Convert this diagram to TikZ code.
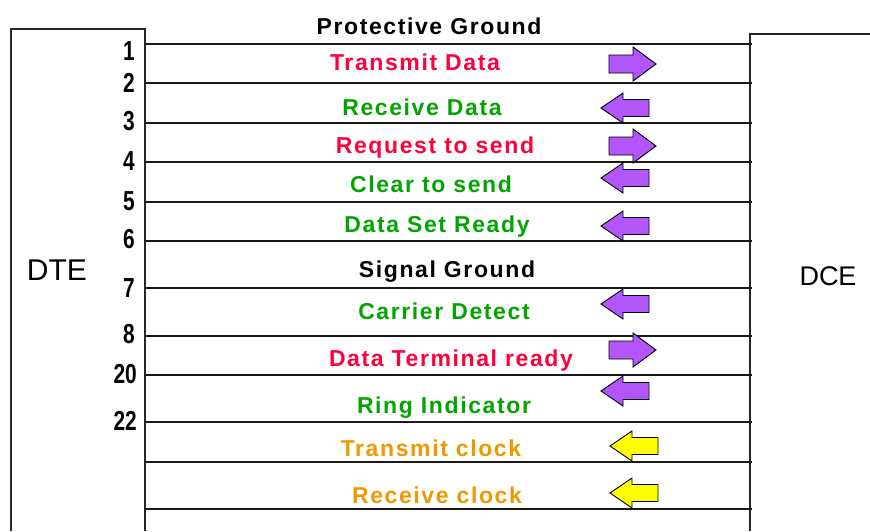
\documentclass[tikz,border=0pt]{standalone}
\usepackage{fontspec}
\setmainfont{Liberation Sans}
\newfontfamily\labfont[LetterSpace=7]{Liberation Sans}
\definecolor{sigred}{RGB}{255,0,60}
\definecolor{siggreen}{RGB}{0,165,0}
\definecolor{sigorange}{RGB}{238,153,0}
\definecolor{sigpurple}{RGB}{178,85,250}
\definecolor{sigyellow}{RGB}{255,255,0}
\newcommand\pinnum[1]{\scalebox{0.95}[1.25]{#1}}
\tikzset{
  wire/.style={draw=black!90, line width=1.6pt},
  devbox/.style={draw=black!85, line width=1.6pt},
  lab/.style={font=\labfont\bfseries\fontsize{23}{25}\selectfont, anchor=base, inner sep=0pt},
  pinlab/.style={font=\bfseries\fontsize{22}{24}\selectfont, anchor=base east, inner sep=0pt},
  devlab/.style={anchor=base, inner sep=0pt},
  sigarrow/.style={draw=black, line width=0.9pt, line join=miter},
  rarr/.pic={\path[pic actions] (-24,-9) -- (0,-9) -- (0,-17) -- (23,0) -- (0,17) -- (0,9) -- (-24,9) -- cycle;},
  larr/.pic={\path[pic actions] (26,-8.5) -- (0,-8.5) -- (0,-15) -- (-22,0) -- (0,15) -- (0,8.5) -- (26,8.5) -- cycle;}
}
\begin{document}
\begin{tikzpicture}[x=1pt,y=-1pt]
\useasboundingbox (0,0) rectangle (870,531);
% device boxes
\draw[devbox] (11,531) -- (11,29) -- (145,29) -- (145,531);
\draw[devbox] (750,531) -- (750,34) -- (871,34);
% wires
\foreach \yy [count=\i] in {44,83,123,162,202,241,288,336,375,422,462,509} {
  \coordinate (L\i) at (145,\yy);
  \coordinate (R\i) at (752,\yy);
  \draw[wire] (L\i) -- (R\i);
}
% device labels
\node[devlab, font=\fontsize{30}{32}\selectfont] (dte) at (57,280) {DTE};
\node[devlab, font=\fontsize{27}{30}\selectfont] (dce) at (828,285) {DCE};
% pin numbers
\node[pinlab] (p1) at (135,60) {\pinnum{1}};
\node[pinlab] (p2) at (135,92) {\pinnum{2}};
\node[pinlab] (p3) at (135,130) {\pinnum{3}};
\node[pinlab] (p4) at (135,170) {\pinnum{4}};
\node[pinlab] (p5) at (135,210) {\pinnum{5}};
\node[pinlab] (p6) at (135,248) {\pinnum{6}};
\node[pinlab] (p7) at (135,297) {\pinnum{7}};
\node[pinlab] (p8) at (135,343) {\pinnum{8}};
\node[pinlab] (p20) at (137,383) {\pinnum{20}};
\node[pinlab] (p22) at (137,430) {\pinnum{22}};
% signal labels
\node[lab, text=black] (pg) at (429,34) {Protective Ground};
\node[lab, text=sigred] (td) at (415,70) {Transmit Data};
\node[lab, text=siggreen] (rd) at (422,115) {Receive Data};
\node[lab, text=sigred] (rts) at (435,153) {Request to send};
\node[lab, text=siggreen] (cts) at (431,192) {Clear to send};
\node[lab, text=siggreen] (dsr) at (437,232) {Data Set Ready};
\node[lab, text=black] (sg) at (447,277) {Signal Ground};
\node[lab, text=siggreen] (cd) at (444,319) {Carrier Detect};
\node[lab, text=sigred] (dtr) at (451,366) {Data Terminal ready};
\node[lab, text=siggreen] (ri) at (444,413) {Ring Indicator};
\node[lab, text=sigorange] (txc) at (431,456) {Transmit clock};
\node[lab, text=sigorange] (rxc) at (437,503) {Receive clock};
% direction arrows
\pic[sigarrow, fill=sigpurple] at (633,64) {rarr};
\pic[sigarrow, fill=sigpurple] at (623,108) {larr};
\pic[sigarrow, fill=sigpurple] at (633,146) {rarr};
\pic[sigarrow, fill=sigpurple] at (623,178) {larr};
\pic[sigarrow, fill=sigpurple] at (623,226) {larr};
\pic[sigarrow, fill=sigpurple] at (623,304) {larr};
\pic[sigarrow, fill=sigpurple] at (633,350) {rarr};
\pic[sigarrow, fill=sigpurple] at (623,391) {larr};
\pic[sigarrow, fill=sigyellow] at (632,446) {larr};
\pic[sigarrow, fill=sigyellow] at (632,493) {larr};
\end{tikzpicture}
\end{document}
